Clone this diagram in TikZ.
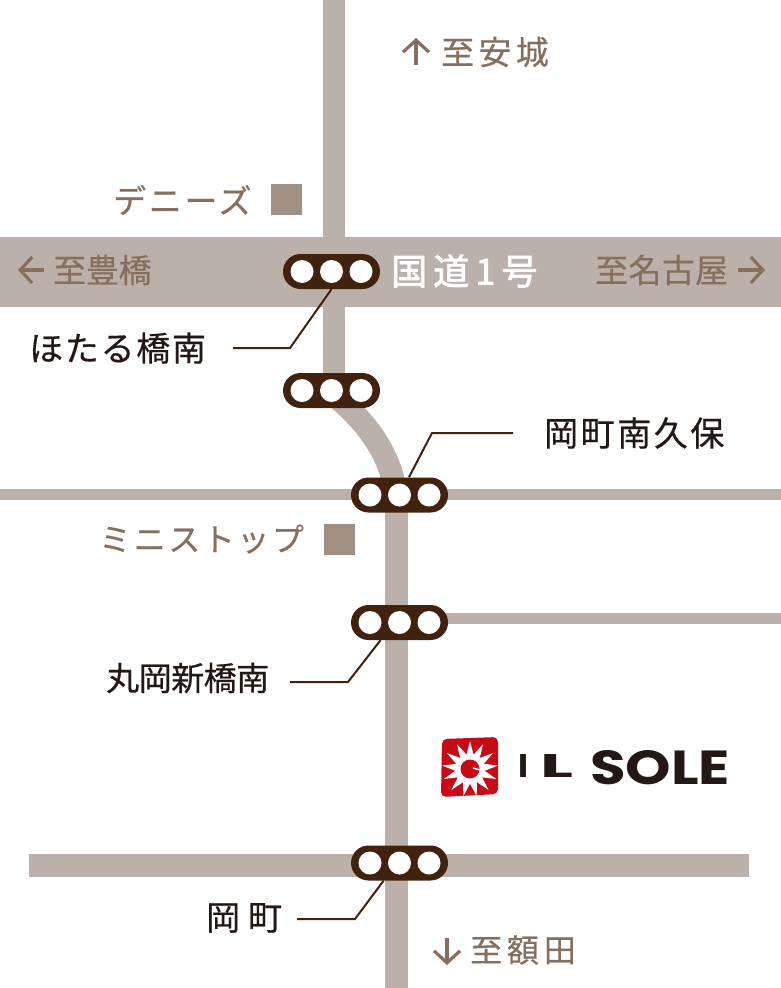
\documentclass[tikz,border=0pt]{standalone}
\usepackage{graphicx}
\usepackage{fontspec}
\usetikzlibrary{calc,arrows.meta,shapes.geometric}
\newfontfamily\jpfont{Noto Sans CJK JP}
\newfontfamily\logofont{Poppins}
\newcommand{\jpset}[2]{\jpfont\addfontfeature{LetterSpace=#2,FakeBold=0.5}\fontsize{#1}{#1}\selectfont}
\definecolor{roadcol}{HTML}{BCB1AA}
\definecolor{signalcol}{HTML}{40220F}
\definecolor{placecol}{HTML}{85705F}
\definecolor{markcol}{HTML}{A08F83}
\definecolor{logored}{HTML}{C70A15}
\definecolor{logoink}{HTML}{231815}
\tikzset{
  road/.style={roadcol,line width=#1},
  signalbox/.style={fill=signalcol,rounded corners=17.5pt,minimum width=97pt,minimum height=35pt,inner sep=0pt},
  leader/.style={signalcol,line width=2pt},
  placelabel/.style={anchor=west,inner sep=0pt,text=placecol},
  blacklabel/.style={anchor=west,inner sep=0pt,text=logoink},
  shopmark/.style={fill=markcol,minimum size=31pt,inner sep=0pt},
  dirarrow/.style={placecol,line width=3.2pt,-{Straight Barb[length=12pt,width=26pt,line width=3.2pt]}},
}
\begin{document}
\begin{tikzpicture}[x=1pt,y=-1pt]
  \useasboundingbox (0,0) rectangle (781,988);
  % roads
  \fill[roadcol] (0,237) rectangle (781,307);
  \draw[road=22pt] (334,0) -- (334,390);
  \draw[road=23pt] (334,395) .. controls (370,425) and (390,455) .. (396.5,495);
  \draw[road=23pt] (396.5,495) -- (396.5,988);
  \draw[road=11pt] (0,494.5) -- (781,494.5);
  \draw[road=11pt] (400,618) -- (781,618);
  \draw[road=23pt] (29,865.5) -- (749,865.5);
  % signals
  \foreach \sig/\px/\py in {sigA/331.5/271.5,sigB/331.5/390.5,sigC/399.5/495,sigD/399.5/622.5,sigE/399.5/863}{
    \node[signalbox] (\sig) at (\px,\py) {};
    \foreach \dx in {-29.5,0,29.5}
      \fill[white] ($(\sig.center)+(\dx,0)$) circle (11.5);
  }
  % labels
  \node[placelabel] (toAnjo) at (441,52) {\jpset{33}{13}至安城};
  \node[placelabel] (toToyohashi) at (53,270) {\jpset{33}{-1}至豊橋};
  \node[placelabel] (toNagoya) at (595,270) {\jpset{33}{1}至名古屋};
  \node[placelabel] (toNukata) at (470,950) {\jpset{32}{15}至額田};
  \node[placelabel] (dennys) at (113,200) {\jpset{33}{8}デニーズ};
  \node[placelabel] (ministop) at (99,539) {\jpset{32}{8}ミニストップ};
  \node[anchor=west,inner sep=0pt,text=white] (route) at (391,271) {\jpfont\addfontfeature{LetterSpace=17,FakeBold=2}\fontsize{36}{36}\selectfont 国道1号};
  \node[blacklabel] (labA) at (29,348) {\jpset{34}{5}ほたる橋南};
  \node[blacklabel] (labC) at (544,433) {\jpset{34}{7.5}岡町南久保};
  \node[blacklabel] (labD) at (106,678) {\jpset{33}{-1.5}丸岡新橋南};
  \node[blacklabel] (labE) at (206,918) {\jpset{34}{0}岡\hspace{8pt}町};
  \node[shopmark] (dennysMark) at (286.5,199.5) {};
  \node[shopmark] (ministopMark) at (339.5,539.5) {};
  % direction arrows
  \draw[dirarrow] (416,65) -- (416,38);
  \draw[dirarrow] (44,270) -- (18,270);
  \draw[dirarrow] (738,270) -- (765,270);
  \draw[dirarrow] (447,938) -- (447,965);
  % leaders
  \coordinate (tailA) at (233,348);
  \coordinate (bendA) at (290,348);
  \coordinate (tailC) at (513,433);
  \coordinate (bendC) at (432,433);
  \coordinate (tailD) at (290,682);
  \coordinate (bendD) at (348,682);
  \coordinate (tailE) at (297,919);
  \coordinate (bendE) at (355,919);
  \draw[leader] (tailA) -- (bendA) -- (sigA.south);
  \draw[leader] (tailC) -- (bendC) -- (sigC.62);
  \draw[leader] (tailD) -- (bendD) -- (sigD.223);
  \draw[leader] (tailE) -- (bendE) -- (sigE.228);
  % logo
  \fill[logored,rounded corners=5pt] (442,739) -- (498,737) -- (498,794) -- (441,797) -- cycle;
  \node[star,star points=13,star point ratio=1.9,fill=white,minimum size=56pt,inner sep=0pt] (sun) at (470,769) {};
  \fill[logored] (sun.center) circle (9.5);
  \draw[white,line width=1.5pt] (sun.center) ++(3,-1) -- ++(7,2);
  \node[inner sep=0pt,anchor=west,text=logoink] (wordIl) at (518,766) {\logofont\bfseries\resizebox{10pt}{23pt}{I}\hspace{12pt}\resizebox{33pt}{23pt}{L}};
  \node[inner sep=0pt,anchor=west,text=logoink] (wordSole) at (590,768) {\logofont\bfseries\resizebox{140pt}{34pt}{SOLE}};
\end{tikzpicture}
\end{document}
